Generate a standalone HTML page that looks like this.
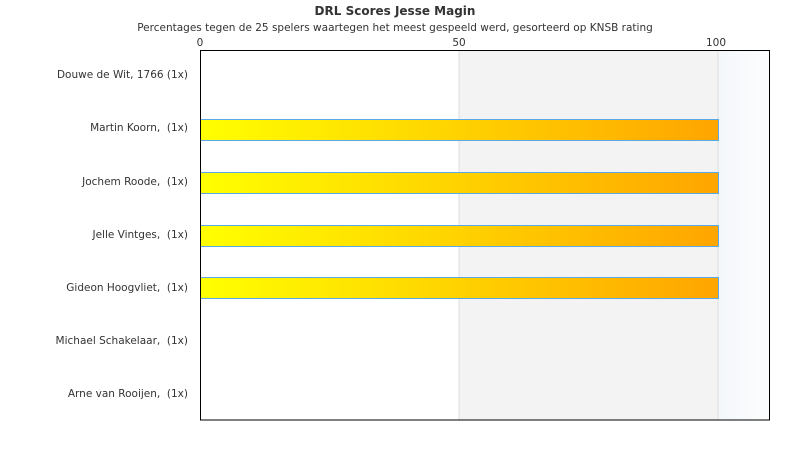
<!DOCTYPE html>
<html><head><meta charset="utf-8"><style>
body{margin:0;background:#fff;width:790px;height:450px;overflow:hidden;font-family:"DejaVu Sans","Liberation Sans",sans-serif;}
</style></head><body>
<svg width="790" height="450" xmlns="http://www.w3.org/2000/svg" font-family="DejaVu Sans, Liberation Sans, sans-serif">
<defs>
<linearGradient id="g" x1="0" x2="1" y1="0" y2="0"><stop offset="0" stop-color="#ffff00"/><stop offset="1" stop-color="#ffa500"/></linearGradient>
<linearGradient id="b" x1="0" x2="1" y1="0" y2="0"><stop offset="0" stop-color="#f4f7fa"/><stop offset="1" stop-color="#fcfdfe"/></linearGradient>
</defs>
<text x="395" y="15" text-anchor="middle" font-size="12" font-weight="bold" fill="#333">DRL Scores Jesse Magin</text>
<text x="395" y="31" text-anchor="middle" font-size="10.5" fill="#333">Percentages tegen de 25 spelers waartegen het meest gespeeld werd, gesorteerd op KNSB rating</text>
<rect x="459" y="50" width="259" height="370" fill="#f3f3f3"/>
<rect x="718" y="50" width="52" height="370" fill="url(#b)"/>
<line x1="459" y1="50" x2="459" y2="420" stroke="#ddd"/>
<line x1="718" y1="50" x2="718" y2="420" stroke="#ddd"/>
<g font-size="10.5" fill="#333" text-anchor="middle">
<text x="200" y="46">0</text><text x="459" y="46">50</text><text x="716" y="46">100</text>
</g>
<g fill="url(#g)" stroke="#5aa9e6" stroke-width="1">
<rect x="200.5" y="119.5" width="518" height="21"/>
<rect x="200.5" y="172.5" width="518" height="21"/>
<rect x="200.5" y="225.5" width="518" height="21"/>
<rect x="200.5" y="277.5" width="518" height="21"/>
</g>
<rect x="200.5" y="50.5" width="569" height="369.5" fill="none" stroke="#000"/>
<g font-size="10.5" fill="#333" text-anchor="end">
<text x="188" y="78">Douwe de Wit, 1766 (1x)</text>
<text x="188" y="131">Martin Koorn,&#160; (1x)</text>
<text x="188" y="185">Jochem Roode,&#160; (1x)</text>
<text x="188" y="238">Jelle Vintges,&#160; (1x)</text>
<text x="188" y="291">Gideon Hoogvliet,&#160; (1x)</text>
<text x="188" y="344">Michael Schakelaar,&#160; (1x)</text>
<text x="188" y="397">Arne van Rooijen,&#160; (1x)</text>
</g>
</svg>
</body></html>
